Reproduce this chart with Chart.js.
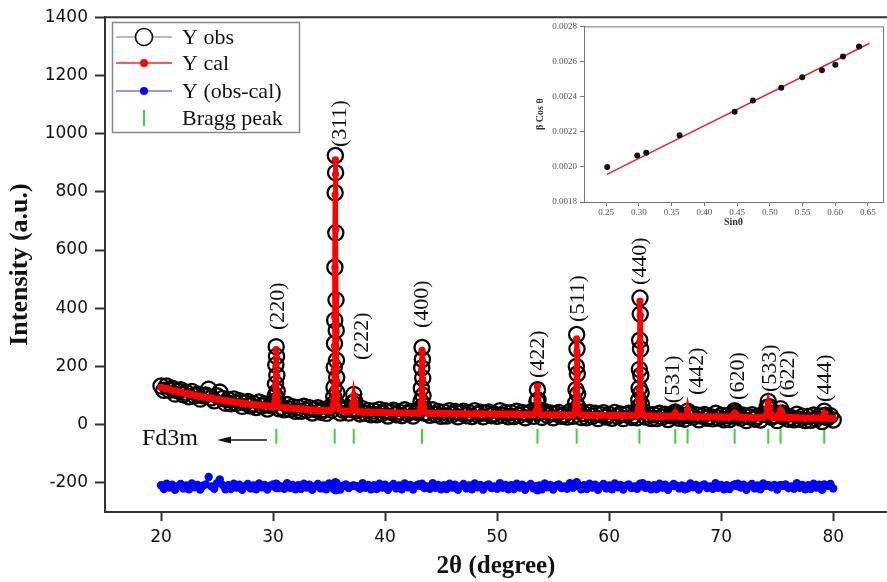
<!DOCTYPE html>
<html><head><meta charset="utf-8">
<script src="https://cdn.jsdelivr.net/npm/chart.js@4.4.1/dist/chart.umd.min.js"></script>
<style>
html,body{margin:0;padding:0;background:#fff;}
#wrap{position:relative;width:887px;height:582px;overflow:hidden;background:#fff;}
#main{position:absolute;left:0;top:0;}
#inset{position:absolute;left:527px;top:18px;}
</style></head><body>
<div id="wrap"><canvas id="main" width="887" height="582"></canvas><canvas id="inset" width="360" height="214"></canvas></div>
<script>
// ---------- main pattern: background grid points ----------
const bgTheta = [20,20.25,20.5,20.75,21,21.25,21.5,21.75,22,22.25,22.5,22.75,23,23.25,23.5,23.75,24,24.25,24.5,24.75,25,25.25,25.5,25.75,26,26.25,26.5,26.75,27,27.25,27.5,27.75,28,28.25,28.5,28.75,29,29.25,29.5,29.75,30,30.5,30.75,31,31.25,31.5,31.75,32,32.25,32.5,32.75,33,33.25,33.5,33.75,34,34.25,34.5,34.75,35,35.25,35.75,36,36.25,36.5,36.75,37.5,37.75,38,38.25,38.5,38.75,39,39.25,39.5,39.75,40,40.25,40.5,40.75,41,41.25,41.5,41.75,42,42.25,42.5,42.75,43,43.5,43.75,44,44.25,44.5,44.75,45,45.25,45.5,45.75,46,46.25,46.5,46.75,47,47.25,47.5,47.75,48,48.25,48.5,48.75,49,49.25,49.5,49.75,50,50.25,50.5,50.75,51,51.25,51.5,51.75,52,52.25,52.5,52.75,53,53.25,53.75,54,54.25,54.5,54.75,55,55.25,55.5,55.75,56,56.25,56.5,56.75,57.25,57.5,57.75,58,58.25,58.5,58.75,59,59.25,59.5,59.75,60,60.25,60.5,60.75,61,61.25,61.5,61.75,62,62.25,62.5,63,63.25,63.5,63.75,64,64.25,64.5,64.75,65,65.25,65.5,65.75,66.25,66.5,66.75,67.25,67.5,67.75,68,68.25,68.5,68.75,69,69.25,69.5,69.75,70,70.25,70.5,70.75,71.5,71.75,72,72.25,72.5,72.75,73,73.25,73.5,73.75,74.5,74.75,75,75.5,75.75,76,76.25,76.5,76.75,77,77.25,77.5,77.75,78,78.25,78.5,78.75,79,79.5,79.75,80];
const bgCal = [128,126,123,121,118,116,114,111,109,107,105,103,101,99,98,96,94,92,91,89,87,86,84,83,81,80,78,77,75,74,73,71,70,69,68,67,66,65,64,63,62,60,59,58,57,57,56,55,54,54,53,52,51,51,50,49,49,48,48,47,52,62,50,47,46,45,47,44,43,43,43,43,42,42,42,42,41,41,41,41,40,40,40,40,40,40,40,40,39,45,40,39,39,39,39,38,38,38,38,38,38,38,38,37,37,37,37,37,37,37,37,36,36,36,36,36,36,36,36,36,36,36,36,35,35,35,35,35,35,38,34,34,34,34,34,34,34,34,33,33,33,33,40,34,33,32,32,32,32,32,32,32,32,31,31,31,31,31,31,31,31,30,30,31,34,30,30,30,29,29,29,29,29,29,29,29,28,28,28,28,28,28,27,27,27,27,27,27,27,27,26,26,26,26,26,26,25,25,25,25,25,25,25,25,27,25,24,25,24,24,24,24,24,23,23,23,23,23,23,23,23,22,22,22,22];
const bgObs = [133,118,133,118,125,105,116,120,103,111,96,114,99,105,88,99,102,122,92,82,99,112,90,74,86,72,88,74,82,63,75,80,64,73,59,78,64,71,54,66,70,55,60,51,69,53,62,46,59,46,63,49,58,40,52,58,43,52,39,58,50,68,40,50,54,40,48,37,55,39,49,34,47,34,52,39,48,30,43,50,34,44,31,51,38,46,30,43,47,40,41,32,51,35,45,29,43,30,48,35,45,27,40,46,31,41,28,48,35,43,27,39,44,31,37,29,48,32,42,27,41,28,46,32,42,24,37,44,29,42,25,45,32,40,24,37,42,29,34,26,45,29,46,25,38,24,42,29,39,21,34,41,26,35,22,42,29,37,21,34,39,25,31,24,46,26,36,21,34,21,39,26,36,18,31,38,22,32,19,39,26,34,17,30,35,22,28,20,39,23,32,17,31,18,36,23,32,14,27,34,19,29,16,36,25,31,14,28,32,19,25,17,36,19,29,14,28,15,33,20,30,11,24,31,16];
const bgDiff = [-208,-221,-203,-216,-206,-224,-211,-204,-219,-209,-222,-202,-215,-207,-223,-210,-205,-180,-212,-220,-201,-188,-207,-222,-208,-221,-203,-216,-206,-224,-211,-204,-219,-209,-222,-202,-215,-207,-223,-210,-205,-218,-212,-220,-201,-217,-207,-222,-208,-221,-203,-216,-206,-224,-211,-204,-219,-209,-222,-202,-215,-207,-223,-210,-205,-218,-212,-220,-201,-217,-207,-222,-208,-221,-203,-216,-206,-224,-211,-204,-219,-209,-222,-202,-215,-207,-223,-210,-205,-218,-212,-220,-201,-217,-207,-222,-208,-221,-203,-216,-206,-224,-211,-204,-219,-209,-222,-202,-215,-207,-223,-210,-205,-218,-212,-220,-201,-217,-207,-222,-208,-221,-203,-216,-206,-224,-211,-204,-219,-209,-222,-202,-215,-207,-223,-210,-205,-218,-212,-220,-201,-217,-207,-222,-208,-221,-203,-216,-206,-224,-211,-204,-219,-209,-222,-202,-215,-207,-223,-210,-205,-218,-212,-220,-201,-217,-207,-222,-208,-221,-203,-216,-206,-224,-211,-204,-219,-209,-222,-202,-215,-207,-223,-210,-205,-218,-212,-220,-201,-217,-207,-222,-208,-221,-203,-216,-206,-224,-211,-204,-219,-209,-222,-202,-215,-207,-223,-210,-205,-218,-212,-220,-201,-217,-207,-222,-208,-221,-203,-216,-206,-224,-211,-204,-219];

// ---------- main pattern: points inside the reflections ----------
const peakTheta = [30.16,30.19,30.22,30.25,30.28,30.31,30.34,30.37,30.40,
 35.40,35.42,35.44,35.46,35.48,35.50,35.52,35.54,35.56,35.58,35.60,35.62,35.64,35.66,35.68,35.70,
 37.00,37.10,37.20,37.30,37.40,
 43.18,43.21,43.24,43.27,43.30,43.33,43.36,43.39,43.42,
 53.50,53.55,53.60,53.65,53.70,
 56.98,57.01,57.04,57.07,57.10,57.13,57.16,57.19,57.22,
 62.60,62.625,62.65,62.675,62.70,62.725,62.75,62.775,62.80,62.825,62.85,62.875,62.90,
 65.80,65.90,66.00,
 66.90,67.00,67.10,
 71.00,71.10,71.20,71.30,71.40,
 74.00,74.10,74.20,74.30,74.40,
 75.15,75.30,75.45,
 79.10,79.20,79.30];
const peakObs = [80,100,140,205,268,235,170,115,85,
 72,95,128,197,279,359,541,797,925,866,659,428,324,221,162,110,
 52,75,104,80,54,
 58,80,125,195,265,225,160,100,65,
 50,80,120,85,52,
 50,75,120,200,310,260,175,105,60,
 45,60,85,125,190,290,435,380,260,170,110,70,48,
 32,44,34,
 32,46,33,
 30,40,48,42,30,
 35,60,80,62,40,
 38,55,40,
 30,46,32];
const peakCal = [78,95,135,200,258,230,165,110,82,
 70,90,125,190,270,370,540,790,910,860,670,440,320,215,150,105,
 50,72,100,78,52,
 56,76,120,190,255,220,155,96,62,
 48,85,132,90,50,
 48,70,115,190,295,250,170,100,57,
 44,58,82,120,185,285,425,375,255,165,105,68,46,
 30,40,31,
 31,52,32,
 28,34,40,35,28,
 32,55,75,58,38,
 35,50,36,
 26,38,30];
const peakDiff = [-211,-206,-215,-209,-203,-218,-210,-205,-214,
 -211,-208,-210,-206,-204,-224,-212,-206,-198,-207,-224,-225,-209,-207,-201,-208,
 -211,-210,-209,-211,-211,
 -211,-209,-208,-208,-203,-208,-208,-209,-210,
 -211,-218,-225,-218,-211,
 -211,-208,-208,-203,-198,-203,-208,-208,-210,
 -212,-211,-210,-208,-208,-208,-203,-208,-208,-208,-208,-211,-211,
 -211,-209,-210,
 -212,-219,-212,
 -211,-207,-205,-206,-211,
 -210,-208,-208,-209,-211,
 -210,-208,-209,
 -209,-205,-211];

// ---------- Bragg positions and hkl labels ----------
const braggTheta = [30.29,35.5,37.2,43.3,53.6,57.1,62.7,65.9,67.0,71.2,74.2,75.3,79.2];
const braggLevel = -40;
const hklText = ['(220)','(311)','(222)','(400)','(422)','(511)','(440)','(531)','(442)','(620)','(533)','(622)','(444)'];
const hklTheta = [30.45,36.0,38.0,43.3,53.66,57.2,62.77,65.7,67.86,71.5,74.4,76.0,79.3];
const hklBase = [325,954,222,332,160,353,480,74,102,85,112,92,78];

const xTicks = [20,30,40,50,60,70,80];
const yTicks = [-200,0,200,400,600,800,1000,1200,1400];

// ---------- inset (Williamson-Hall) ----------
const sinTheta = [0.2515,0.2974,0.3111,0.3621,0.4462,0.4742,0.5175,0.5496,0.5797,0.6001,0.6118,0.6363];
const betaCos = [0.00200,0.002065,0.00208,0.00218,0.002314,0.002378,0.00245,0.002511,0.00255,0.002581,0.002628,0.002685];
const fitSin = [0.251,0.6526];
const fitBeta = [0.001957,0.002704];
const insetXTicks = [0.25,0.30,0.35,0.40,0.45,0.50,0.55,0.60,0.65];
const insetYTicks = [0.0018,0.0020,0.0022,0.0024,0.0026,0.0028];

// merge and sort the pattern points by 2theta
const pts = bgTheta.map((x,i)=>({x:x,o:bgObs[i],c:bgCal[i],d:bgDiff[i]}))
  .concat(peakTheta.map((x,i)=>({x:x,o:peakObs[i],c:peakCal[i],d:peakDiff[i]})))
  .sort((a,b)=>a.x-b.x);

const SERIF = "'Liberation Serif','Times New Roman',serif";
const SANS = "'DejaVu Sans',sans-serif";

const decor = {
  id:'decor',
  afterDraw(chart){
    const ctx = chart.ctx, ca = chart.chartArea;
    const xs = chart.scales.x, ys = chart.scales.y;
    ctx.save();
    // top frame line
    ctx.strokeStyle = '#333'; ctx.lineWidth = 2;
    ctx.beginPath(); ctx.moveTo(ca.left-1, ca.top); ctx.lineTo(ca.right, ca.top); ctx.stroke();
    // hkl labels
    ctx.fillStyle = '#111';
    ctx.font = '22px ' + SERIF;
    ctx.textAlign = 'left'; ctx.textBaseline = 'middle';
    hklText.forEach((t,i)=>{
      const px = xs.getPixelForValue(hklTheta[i]);
      const py = ys.getPixelForValue(hklBase[i]);
      ctx.save(); ctx.translate(px,py); ctx.rotate(-Math.PI/2); ctx.fillText(t,0,0); ctx.restore();
    });
    // Fd3m with arrow
    ctx.font = '24px ' + SERIF;
    ctx.textAlign = 'left'; ctx.textBaseline = 'middle';
    ctx.fillText('Fd3m', 142, 439);
    ctx.strokeStyle = '#111'; ctx.lineWidth = 1.4;
    ctx.beginPath(); ctx.moveTo(267,440); ctx.lineTo(226,440); ctx.stroke();
    ctx.beginPath(); ctx.moveTo(217,440); ctx.lineTo(231,436.5); ctx.lineTo(231,443.5); ctx.closePath(); ctx.fill();
    // legend
    ctx.strokeStyle = '#888'; ctx.lineWidth = 1.5;
    ctx.strokeRect(112.5, 22.5, 187, 110);
    const rows = [37,63,91,118];
    ctx.strokeStyle = '#777'; ctx.lineWidth = 1.2;
    ctx.beginPath(); ctx.moveTo(116,rows[0]); ctx.lineTo(172,rows[0]); ctx.stroke();
    ctx.fillStyle = '#fff'; ctx.strokeStyle = '#111'; ctx.lineWidth = 1.6;
    ctx.beginPath(); ctx.arc(144,rows[0],8.5,0,Math.PI*2); ctx.fill(); ctx.stroke();
    ctx.strokeStyle = '#ff2020'; ctx.lineWidth = 1.5;
    ctx.beginPath(); ctx.moveTo(116,rows[1]); ctx.lineTo(172,rows[1]); ctx.stroke();
    ctx.fillStyle = '#ff0000'; ctx.beginPath(); ctx.arc(144,rows[1],4,0,Math.PI*2); ctx.fill();
    ctx.strokeStyle = '#7478c4'; ctx.lineWidth = 1.5;
    ctx.beginPath(); ctx.moveTo(116,rows[2]); ctx.lineTo(172,rows[2]); ctx.stroke();
    ctx.fillStyle = '#0000ff'; ctx.beginPath(); ctx.arc(144,rows[2],4,0,Math.PI*2); ctx.fill();
    ctx.strokeStyle = '#3bd13b'; ctx.lineWidth = 2;
    ctx.beginPath(); ctx.moveTo(144,rows[3]-8); ctx.lineTo(144,rows[3]+8); ctx.stroke();
    ctx.fillStyle = '#111'; ctx.font = '22px ' + SERIF; ctx.textBaseline = 'middle';
    ['Y obs','Y cal','Y (obs-cal)','Bragg peak'].forEach((t,i)=>ctx.fillText(t,182,rows[i]+1));
    ctx.restore();
  }
};

new Chart(document.getElementById('main'), {
  type:'scatter',
  data:{datasets:[
    {label:'Y cal', data:pts.map(p=>({x:p.x,y:p.c})), showLine:true, borderColor:'#ff0000', borderWidth:5,
     pointRadius:3.6, pointBackgroundColor:'#ff0000', pointBorderColor:'#ff0000', pointBorderWidth:0, order:0},
    {label:'Y obs', data:pts.map(p=>({x:p.x,y:p.o})), showLine:false, pointRadius:7.6,
     pointBorderColor:'#050505', pointBackgroundColor:'rgba(255,255,255,0)', pointBorderWidth:2.3, order:1},
    {label:'Y (obs-cal)', data:pts.map(p=>({x:p.x,y:p.d})), showLine:false, pointRadius:4.2,
     pointBackgroundColor:'#0000ff', pointBorderColor:'#0000ff', pointBorderWidth:0, order:2},
    {label:'Bragg peak', data:braggTheta.map(x=>({x:x,y:braggLevel})), showLine:false, pointStyle:'line',
     rotation:90, pointRadius:7.5, pointBorderColor:'#3bd13b', pointBorderWidth:2, order:3}
  ]},
  options:{
    responsive:false, animation:false, devicePixelRatio:1,
    layout:{autoPadding:false, padding:{top:17,right:0,left:0,bottom:0}},
    plugins:{legend:{display:false}, tooltip:{enabled:false}},
    scales:{
      x:{type:'linear', min:15, max:84.8,
        afterBuildTicks:s=>{s.ticks = xTicks.map(v=>({value:v}));},
        afterFit:s=>{s.height = 70;},
        grid:{display:true, drawOnChartArea:false, drawTicks:true, tickLength:9, tickColor:'#333', tickWidth:2},
        border:{display:true, color:'#333', width:2},
        ticks:{font:{family:SANS, size:17}, color:'#111', padding:6, maxRotation:0, autoSkip:false, callback:v=>String(v)},
        title:{display:true, text:'2θ (degree)', color:'#111', font:{family:SERIF, size:25, weight:'bold'}, padding:{top:0,bottom:0}}
      },
      y:{type:'linear', min:-300, max:1400,
        afterBuildTicks:s=>{s.ticks = yTicks.map(v=>({value:v}));},
        afterFit:s=>{s.width = 105;},
        grid:{display:true, drawOnChartArea:false, drawTicks:true, tickLength:10, tickColor:'#333', tickWidth:2},
        border:{display:true, color:'#333', width:2},
        ticks:{font:{family:SANS, size:17}, color:'#111', padding:7, autoSkip:false, callback:v=>String(v)},
        title:{display:true, text:'Intensity (a.u.)', color:'#111', font:{family:SERIF, size:26, weight:'bold'}, padding:{top:5,bottom:0}}
      }
    }
  },
  plugins:[decor]
});

const insetFrame = {
  id:'insetFrame',
  afterDraw(chart){
    const ctx = chart.ctx, ca = chart.chartArea;
    ctx.save(); ctx.strokeStyle = '#777'; ctx.lineWidth = 1;
    ctx.beginPath();
    ctx.moveTo(ca.left, ca.top+0.5); ctx.lineTo(ca.right+0.5, ca.top+0.5); ctx.lineTo(ca.right+0.5, ca.bottom);
    ctx.stroke(); ctx.restore();
  }
};

new Chart(document.getElementById('inset'), {
  type:'scatter',
  data:{datasets:[
    {label:'fit', data:fitSin.map((x,i)=>({x:x,y:fitBeta[i]})), showLine:true, borderColor:'#e3262d', borderWidth:1.5, pointRadius:0, order:1},
    {label:'βcosθ', data:sinTheta.map((x,i)=>({x:x,y:betaCos[i]})), pointRadius:3, pointBackgroundColor:'#111', pointBorderColor:'#111', pointBorderWidth:0, order:0}
  ]},
  options:{
    responsive:false, animation:false, devicePixelRatio:1,
    layout:{autoPadding:false, padding:{top:8,right:4,left:0,bottom:0}},
    plugins:{legend:{display:false}, tooltip:{enabled:false}},
    scales:{
      x:{type:'linear', min:0.216, max:0.673,
        afterBuildTicks:s=>{s.ticks = insetXTicks.map(v=>({value:v}));},
        afterFit:s=>{s.height = 30;},
        grid:{display:true, drawOnChartArea:false, drawTicks:true, tickLength:4, tickColor:'#777', tickWidth:1},
        border:{display:true, color:'#777', width:1},
        ticks:{font:{family:SERIF, size:9}, color:'#555', padding:1, maxRotation:0, autoSkip:false, callback:v=>Number(v).toFixed(2)},
        title:{display:true, text:'Sinθ', color:'#333', font:{family:SERIF, size:10, weight:'bold'}, padding:{top:0,bottom:4}}
      },
      y:{type:'linear', min:0.0018, max:0.0028,
        afterBuildTicks:s=>{s.ticks = insetYTicks.map(v=>({value:v}));},
        afterFit:s=>{s.width = 57;},
        grid:{display:true, drawOnChartArea:false, drawTicks:true, tickLength:4, tickColor:'#777', tickWidth:1},
        border:{display:true, color:'#777', width:1},
        ticks:{font:{family:SERIF, size:9}, color:'#555', padding:3, autoSkip:false, callback:v=>Number(v).toFixed(4)},
        title:{display:true, text:'β Cos θ', color:'#333', font:{family:SERIF, size:10, weight:'bold'}, padding:{top:7,bottom:0}}
      }
    }
  },
  plugins:[insetFrame]
});
</script></body></html>
